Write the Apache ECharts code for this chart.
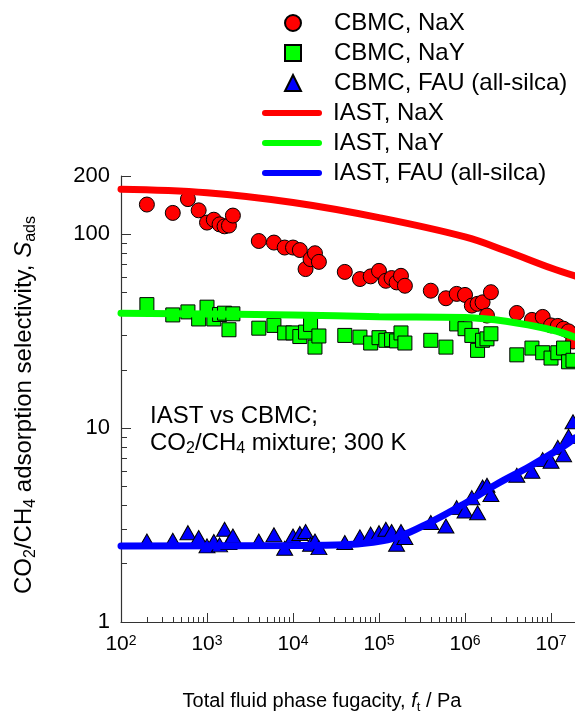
<!DOCTYPE html>
<html>
<head>
<meta charset="utf-8">
<script src="https://cdn.jsdelivr.net/npm/echarts@6/dist/echarts.min.js"></script>
<style>
html, body { margin: 0; padding: 0; background: #fff; }
#main { width: 575px; height: 719px; }
</style>
</head>
<body>
<div id="main"></div>
<script>
// CBMC simulation points: total fugacity (Pa) shared by all three frameworks
var fugacity = [200, 400, 600, 800, 1000, 1200, 1400, 1600, 1800, 2000,
    4000, 6000, 8000, 10000, 12000, 14000, 16000, 18000, 20000,
    4e4, 6e4, 8e4, 1e5, 1.2e5, 1.4e5, 1.6e5, 1.8e5, 2e5,
    4e5, 6e5, 8e5, 1e6, 1.2e6, 1.4e6, 1.6e6, 1.8e6, 2e6,
    4e6, 6e6, 8e6, 1e7, 1.2e7, 1.4e7, 1.6e7, 1.8e7];

var cbmcNaX = [142.5, 129, 152, 133, 115, 119, 112.6, 110, 111, 125,
    92.4, 90.7, 85.5, 85.5, 83, 66.2, 74.5, 79.9, 72.1,
    64, 58.8, 60.7, 64.8, 57.6, 59.5, 56.5, 61.1, 54.3,
    51.2, 46.8, 49.3, 48.7, 42.9, 43.8, 44.6, 38.1, 50.3,
    39.3, 36.2, 37.5, 33.9, 33.7, 32.6, 31.6, 28];

var cbmcNaY = [43.4, 38.4, 39.8, 36.6, 42.1, 36.6, 38.6, 39.2, 32.2, 38.9,
    32.8, 33.9, 31.0, 31.0, 29.7, 31.3, 34.3, 26.2, 29.9,
    30.1, 29.5, 27.5, 29.3, 28.4, 28.6, 28.2, 31.0, 27.5,
    28.4, 26.2, 34.5, 32.6, 30.1, 25.2, 28.4, 28.9, 30.7,
    23.9, 25.9, 24.5, 23.0, 24.5, 25.9, 22.0, 22.4];

var cbmcFAU = [2.62, 2.64, 2.89, 2.73, 2.47, 2.60, 2.50, 3.01, 2.57, 2.78,
    2.62, 2.82, 2.40, 2.78, 2.86, 2.93, 2.52, 2.62, 2.42,
    2.57, 2.75, 2.84, 2.89, 3.01, 2.93, 2.52, 2.93, 2.73,
    3.26, 3.13, 3.89, 3.74, 4.38, 3.66, 4.97, 5.08, 4.55,
    5.72, 6.00, 6.88, 6.75, 7.96, 7.30, 9.07, 10.8];

// IAST curves
var iastNaXF = [100, 1000, 1e4, 1e5, 1e6, 3e6, 1e7, 1.9e7];
var iastNaX  = [171, 164, 146, 122, 97, 82, 67, 61];
var iastNaYF = [100, 1e4, 1e5, 1e6, 3e6, 1e7, 1.9e7];
var iastNaY  = [39.2, 38.4, 37.6, 37.2, 35.6, 32.2, 29.5];
var iastFAUF = [100, 1e4, 4e4, 8e4, 1.6e5, 3.9e5, 9.5e5, 2.3e6, 5.7e6, 1.4e7, 1.9e7];
var iastFAU  = [2.47, 2.48, 2.50, 2.57, 2.73, 3.26, 4.04, 5.12, 6.36, 8.06, 8.9];

// axis ticks
var xMajor = [1e2, 1e3, 1e4, 1e5, 1e6, 1e7];
var yMajor = [1, 10, 100, 200];
var xMinor = [];
var yMinor = [];
for (var e = 2; e <= 7; e++) {
    for (var m = 2; m <= 9; m++) xMinor.push(m * Math.pow(10, e));
}
for (var e2 = 0; e2 <= 1; e2++) {
    for (var m2 = 2; m2 <= 9; m2++) yMinor.push(m2 * Math.pow(10, e2));
}

var FONT = 'Liberation Sans, Arial, sans-serif';
var AXIS_COLOR = '#333';

function pairs(xs, ys) {
    return xs.map(function (x, i) { return [x, ys[i]]; });
}

var chart = echarts.init(document.getElementById('main'));
chart.setOption({
    animation: false,
    textStyle: { fontFamily: FONT },
    grid: { left: 121, right: 0, top: 176, bottom: 94, containLabel: false },
    legend: [
        {
            orient: 'vertical', left: 284, top: 11, padding: 0,
            itemWidth: 16, itemHeight: 16, itemGap: 6,
            selectedMode: false,
            data: ['CBMC, NaX', 'CBMC, NaY', 'CBMC, FAU (all-silca)'],
            textStyle: { fontSize: 24, color: '#000', fontFamily: FONT, lineHeight: 24, padding: [0, 0, 0, 28] }
        },
        {
            orient: 'vertical', left: 262, top: 101, padding: 0,
            itemWidth: 60, itemHeight: 7, itemGap: 6,
            selectedMode: false,
            icon: 'path://M3,0 H57 A3,3 0 0 1 57,6 H3 A3,3 0 0 1 3,0 Z',
            data: ['IAST, NaX', 'IAST, NaY', 'IAST, FAU (all-silca)'],
            textStyle: { fontSize: 24, color: '#000', fontFamily: FONT, lineHeight: 24, padding: [0, 0, 0, 6] }
        }
    ],
    xAxis: [
        {
            type: 'log', min: 100, max: 1.9e7, position: 'bottom',
            name: '{n|Total fluid phase fugacity, }{i|f}{sub|t}{n| / Pa}',
            nameLocation: 'middle', nameGap: 67,
            nameTextStyle: {
                padding: [0, 52, 0, 0],
                rich: {
                    n: { fontSize: 20, color: '#000', fontFamily: FONT },
                    i: { fontSize: 20, color: '#000', fontFamily: FONT, fontStyle: 'italic' },
                    sub: { fontSize: 13, color: '#000', fontFamily: FONT, verticalAlign: 'bottom', padding: [12, 0, 0, 0] }
                }
            },
            axisLine: { lineStyle: { color: AXIS_COLOR, width: 1.2 } },
            axisTick: { inside: true, length: 9, customValues: xMajor, lineStyle: { color: AXIS_COLOR } },
            axisLabel: {
                customValues: xMajor, margin: 12,
                formatter: function (v) {
                    return '{b|10}{s|' + Math.round(Math.log10(v)) + '}';
                },
                rich: {
                    b: { fontSize: 21, color: '#000', fontFamily: FONT },
                    s: { fontSize: 14, color: '#000', fontFamily: FONT, verticalAlign: 'top' }
                }
            },
            splitLine: { show: false }
        },
        {
            type: 'log', min: 100, max: 1.9e7, position: 'bottom',
            axisLine: { show: false },
            axisTick: { inside: true, length: 5, customValues: xMinor, lineStyle: { color: AXIS_COLOR } },
            axisLabel: { show: false },
            splitLine: { show: false }
        }
    ],
    yAxis: [
        {
            type: 'log', min: 1, max: 200, position: 'left',
            name: '{n|CO}{sub|2}{n|/CH}{sub|4}{n| adsorption selectivity, }{i|S}{sub|ads}',
            nameLocation: 'middle', nameGap: 82, nameRotate: 90,
            nameTextStyle: {
                padding: [0, 12, 0, 0],
                rich: {
                    n: { fontSize: 24, color: '#000', fontFamily: FONT },
                    i: { fontSize: 24, color: '#000', fontFamily: FONT, fontStyle: 'italic' },
                    sub: { fontSize: 16, color: '#000', fontFamily: FONT, verticalAlign: 'bottom', padding: [14, 0, 0, 0] }
                }
            },
            axisLine: { show: true, lineStyle: { color: AXIS_COLOR, width: 1.2 } },
            axisTick: { show: true, inside: true, length: 10, customValues: yMajor, lineStyle: { color: AXIS_COLOR } },
            axisLabel: { customValues: yMajor, margin: 11, fontSize: 22, color: '#000', fontFamily: FONT },
            splitLine: { show: false }
        },
        {
            type: 'log', min: 1, max: 200, position: 'left',
            axisLine: { show: false },
            axisTick: { show: true, inside: true, length: 6, customValues: yMinor, lineStyle: { color: AXIS_COLOR } },
            axisLabel: { show: false },
            splitLine: { show: false }
        }
    ],
    graphic: [
        {
            type: 'text', left: 150, top: 404,
            style: {
                text: '{n|IAST vs CBMC;}\n{n|CO}{sub|2}{n|/CH}{sub|4}{n| mixture; 300 K}',
                rich: {
                    n: { fontSize: 24, fill: '#000', fontFamily: FONT, lineHeight: 27 },
                    sub: { fontSize: 16, fill: '#000', fontFamily: FONT, lineHeight: 27, verticalAlign: 'bottom', padding: [13, 0, 0, 0] }
                }
            }
        }
    ],
    series: [
        {
            name: 'CBMC, NaX', type: 'scatter', symbol: 'circle', symbolSize: 15,
            itemStyle: { color: '#ff0000', borderColor: '#000', borderWidth: 1, opacity: 1 },
            data: pairs(fugacity, cbmcNaX)
        },
        {
            name: 'CBMC, NaY', type: 'scatter', symbol: 'rect', symbolSize: 14,
            itemStyle: { color: '#00ff00', borderColor: '#000', borderWidth: 1, opacity: 1 },
            data: pairs(fugacity, cbmcNaY)
        },
        {
            name: 'CBMC, FAU (all-silca)', type: 'scatter', symbol: 'triangle', symbolSize: [16, 14],
            itemStyle: { color: '#0000ff', borderColor: '#000', borderWidth: 1, opacity: 1 },
            data: pairs(fugacity, cbmcFAU)
        },
        {
            name: 'IAST, NaX', type: 'line', z: 3, smooth: 0.4, showSymbol: false, symbol: 'none',
            color: '#ff0000',
            lineStyle: { color: '#ff0000', width: 7, cap: 'round' },
            data: pairs(iastNaXF, iastNaX)
        },
        {
            name: 'IAST, NaY', type: 'line', z: 3, smooth: 0.4, showSymbol: false, symbol: 'none',
            color: '#00ff00',
            lineStyle: { color: '#00ff00', width: 7, cap: 'round' },
            data: pairs(iastNaYF, iastNaY)
        },
        {
            name: 'IAST, FAU (all-silca)', type: 'line', z: 3, smooth: 0.4, showSymbol: false, symbol: 'none',
            color: '#0000ff',
            lineStyle: { color: '#0000ff', width: 7, cap: 'round' },
            data: pairs(iastFAUF, iastFAU)
        }
    ]
});
</script>
</body>
</html>
